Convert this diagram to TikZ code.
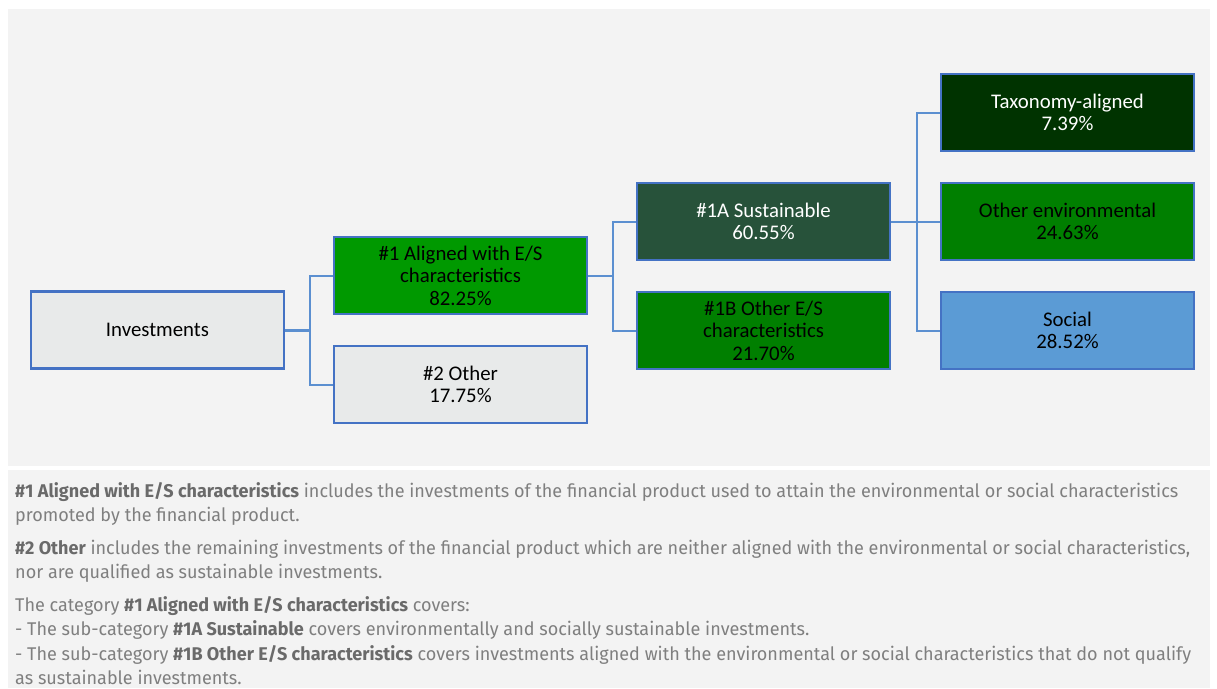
\documentclass[tikz,border=0pt]{standalone}
\usepackage{fontspec}
\setmainfont{Carlito}
\newfontfamily\notefont[FakeStretch=0.98]{Fira Sans}
\usetikzlibrary{calc}
\definecolor{panel}{HTML}{F3F3F3}
\definecolor{boxline}{HTML}{4472C4}
\definecolor{connline}{HTML}{5B8FD0}
\definecolor{lgray}{HTML}{E8EAEA}
\definecolor{gA}{HTML}{009900}
\definecolor{gS}{HTML}{27523A}
\definecolor{gB}{HTML}{007F00}
\definecolor{gT}{HTML}{003300}
\definecolor{gE}{HTML}{007F00}
\definecolor{bS}{HTML}{5B9BD5}
\definecolor{notetext}{HTML}{7F7F7F}
\definecolor{notebold}{HTML}{6A6A6A}
\tikzset{
  catbox/.style={draw=boxline, line width=2.4pt, minimum width=253pt, minimum height=77pt,
    align=center, inner sep=2pt, font=\fontsize{20.8}{22.5}\selectfont},
  conn/.style={draw=connline, line width=2pt},
  noteline/.style={anchor=base west, inner sep=0pt, text=notetext, font=\notefont\fontsize{18.4}{24}\selectfont}
}
\newcommand{\nb}[1]{\textcolor{notebold}{\bfseries #1}}
\begin{document}
\begin{tikzpicture}[x=1pt,y=-1pt]
\useasboundingbox (0,0) rectangle (1217,688);
\fill[white] (0,0) rectangle (1217,688);
\fill[panel] (8,9) rectangle (1210,466);
\fill[panel] (8,470) rectangle (1210,688);

\node[catbox, fill=lgray, text=black] (inv) at (157.5,330) {Investments};
\node[catbox, fill=gA, text=black] (a1) at (460.5,275.5) {\#1 Aligned with E/S\\characteristics\\82.25\%};
\node[catbox, fill=lgray, text=black] (o2) at (460.5,384.5) {\#2 Other\\17.75\%};
\node[catbox, fill=gS, text=white] (s1a) at (763.5,221.5) {\#1A Sustainable\\60.55\%};
\node[catbox, fill=gB, text=black] (o1b) at (763.5,330.5) {\#1B Other E/S\\characteristics\\21.70\%};
\node[catbox, fill=gT, text=white] (tax) at (1067.5,112.5) {Taxonomy-aligned\\7.39\%};
\node[catbox, fill=gE, text=black] (env) at (1067.5,221.5) {Other environmental\\24.63\%};
\node[catbox, fill=bS, text=black] (soc) at (1067.5,330.5) {Social\\28.52\%};

\draw[conn, line width=3pt] (inv.east) -- ++(25,0) coordinate (j1);
\draw[conn] (j1) |- (a1.west);
\draw[conn] (j1) |- (o2.west);
\draw[conn] (a1.east) -- ++(25,0) coordinate (j2);
\draw[conn] (j2) |- (s1a.west);
\draw[conn] (j2) |- (o1b.west);
\draw[conn] (s1a.east) -- ++(26,0) coordinate (j3);
\draw[conn] (j3) |- (tax.west);
\draw[conn] (j3) |- (env.west);
\draw[conn] (j3) |- (soc.west);

\node[noteline] (n1) at (15,497) {\nb{\#1 Aligned with E/S characteristics} includes the investments of the financial product used to attain the environmental or social characteristics};
\node[noteline] (n2) at (15,521.5) {promoted by the financial product.};
\node[noteline] (n3) at (15,554) {\nb{\#2 Other} includes the remaining investments of the financial product which are neither aligned with the environmental or social characteristics,};
\node[noteline] (n4) at (15,578.5) {nor are qualified as sustainable investments.};
\node[noteline] (n5) at (15,611) {The category \nb{\#1 Aligned with E/S characteristics} covers:};
\node[noteline] (n6) at (15,635.5) {- The sub-category \nb{\#1A Sustainable} covers environmentally and socially sustainable investments.};
\node[noteline] (n7) at (15,660) {- The sub-category \nb{\#1B Other E/S characteristics} covers investments aligned with the environmental or social characteristics that do not qualify};
\node[noteline] (n8) at (15,684) {as sustainable investments.};
\end{tikzpicture}
\end{document}
